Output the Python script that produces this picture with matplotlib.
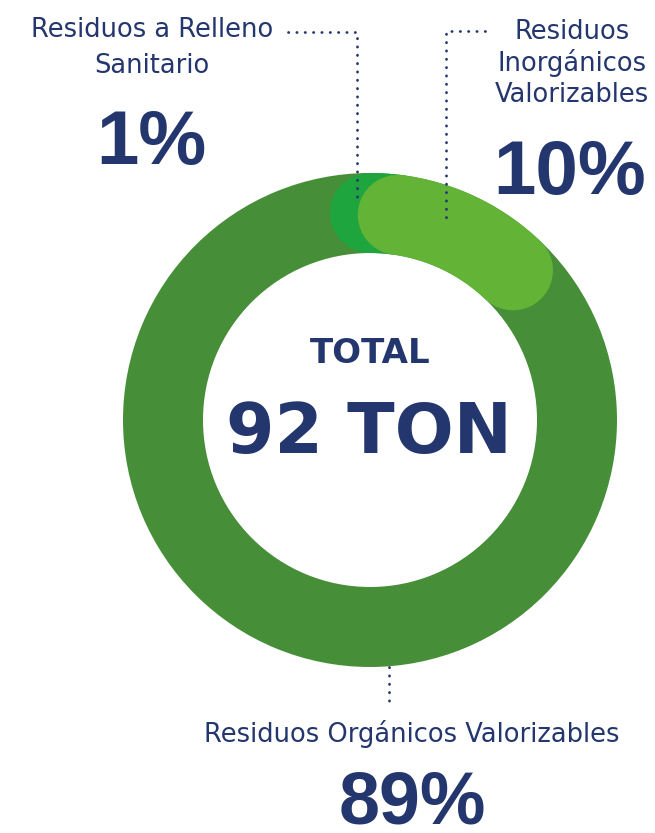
import numpy as np
import matplotlib.pyplot as plt
from matplotlib.patches import Wedge

# data
labels = ['Residuos a Relleno\nSanitario', 'Residuos\nInorgánicos\nValorizables',
          'Residuos Orgánicos Valorizables']
values = [1, 10, 89]
pct_text = ['1%', '10%', '89%']
colors = ['#1fa53e', '#63b337', '#468f38']
total_text = '92 TON'

navy = '#24366e'

fig = plt.figure(figsize=(6.55, 8.33), dpi=100)
ax = fig.add_axes([0, 0, 1, 1])
ax.set_xlim(0, 655)
ax.set_ylim(833, 0)
ax.axis('off')

# ring geometry (pixels, y down)
cx, cy = 370, 420
r_out, r_in = 247, 167
rc = (r_out + r_in) / 2
lw = (r_out - r_in) * 0.72   # px -> pt

def arc_xy(a0, a1):
    t = np.radians(np.linspace(a0, a1, 200))
    return cx + rc * np.sin(t), cy - rc * np.cos(t)

# angles clockwise from top, small slice gets a minimum visible span
min_span = 7.7
spans = [max(v / sum(values) * 360, min_span) for v in values[:2]]
a_small0, a_small1 = 0, spans[0]
a_mid0, a_mid1 = a_small1, a_small1 + values[1] / sum(values) * 360

# base ring (largest slice)
ax.add_patch(Wedge((cx, cy), r_out, 0, 360, width=r_out - r_in,
                   facecolor=colors[2], edgecolor='none'))
x, y = arc_xy(a_small0, a_small1)
ax.plot(x, y, color=colors[0], lw=lw, solid_capstyle='round')
x, y = arc_xy(a_mid0, a_mid1)
ax.plot(x, y, color=colors[1], lw=lw, solid_capstyle='round')

# dotted leaders
dot = dict(color=navy, lw=2.0, linestyle=(0, (0.1, 2.9)), dash_capstyle='round')
ax.plot([288, 357, 357], [32, 32, 197], **dot)
ax.plot([485, 446, 446], [31, 31, 224], **dot)
ax.plot([389, 389], [667, 703], **dot)

# labels
lab = dict(color=navy, fontsize=18.5, family='DejaVu Sans', ha='center')
big = dict(color=navy, fontsize=55, family='Liberation Sans',
           fontweight='bold', ha='center')

ax.text(152, 37, labels[0].split('\n')[0], va='baseline', **lab)
ax.text(152, 73, labels[0].split('\n')[1], va='baseline', **lab)
ax.text(151, 164, pct_text[0], va='baseline', **big)

for s, yb in zip(labels[1].split('\n'), [39, 71, 102]):
    ax.text(572, yb, s, va='baseline', **lab)
ax.text(570, 194, pct_text[1], va='baseline', **big)

ax.text(412, 742, labels[2], va='baseline', **lab)
ax.text(412, 824, pct_text[2], va='baseline', **dict(big, fontsize=53))

ax.text(370, 363, 'TOTAL', color=navy, fontsize=24.5, family='DejaVu Sans',
        fontweight='bold', ha='center', va='baseline')
ax.text(369, 453, total_text, color=navy, fontsize=50, family='DejaVu Sans',
        fontweight='bold', ha='center', va='baseline')

fig.savefig('out.png', dpi=100)
